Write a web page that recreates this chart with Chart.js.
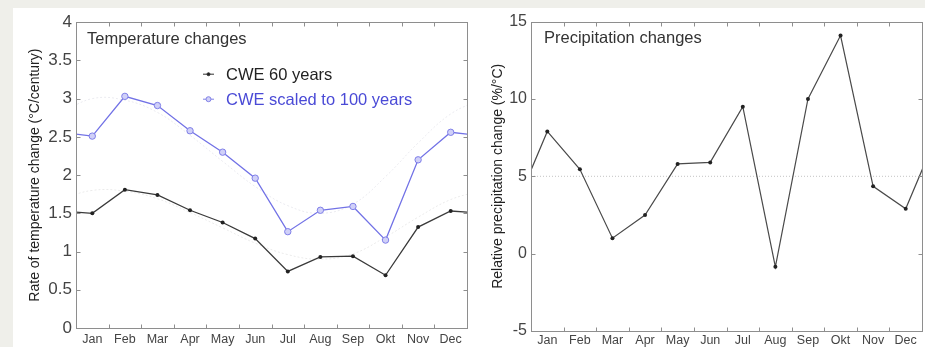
<!DOCTYPE html>
<html>
<head>
<meta charset="utf-8">
<script src="https://cdn.jsdelivr.net/npm/chart.js@4/dist/chart.umd.min.js"></script>
<style>
  html, body { margin: 0; padding: 0; background: #efefea; }
  #page { position: absolute; left: 13px; top: 8px; width: 912px; height: 339px; background: #fff; }
  canvas { position: absolute; top: 0; }
  #tempBox { position: absolute; left: 0; top: 0; width: 460px; height: 339px; }
  #precBox { position: absolute; left: 460px; top: 0; width: 452px; height: 339px; }
</style>
</head>
<body>
<div id="page">
  <div id="tempBox"><canvas id="tempChart"></canvas></div>
  <div id="precBox"><canvas id="precChart"></canvas></div>
</div>
<script>
// month labels (as on the figure)
const months = ['Jan', 'Feb', 'Mar', 'Apr', 'May', 'Jun', 'Jul', 'Aug', 'Sep', 'Okt', 'Nov', 'Dec'];

// temperature change, degC/century
const cwe60 = [1.50, 1.81, 1.74, 1.54, 1.38, 1.17, 0.74, 0.93, 0.94, 0.69, 1.32, 1.53];
const cwe100 = [2.51, 3.03, 2.91, 2.58, 2.30, 1.96, 1.26, 1.54, 1.59, 1.15, 2.20, 2.56];
// faint smooth seasonal curves behind the lines
const fit60 = [1.80, 1.79, 1.69, 1.51, 1.31, 1.11, 0.96, 0.90, 0.97, 1.19, 1.45, 1.68];
const fit100 = [3.00, 2.98, 2.82, 2.52, 2.18, 1.85, 1.60, 1.50, 1.62, 1.98, 2.42, 2.80];

// relative precipitation change, %/degC
const precip = [7.9, 5.45, 1.0, 2.5, 5.8, 5.9, 9.5, -0.85, 10.0, 14.1, 4.35, 2.9];
const precipRef = 5;

const tempTicks = [0, 0.5, 1, 1.5, 2, 2.5, 3, 3.5, 4];
const precTicks = [-5, 0, 5, 10, 15];

const FONT = 'Liberation Sans, Arial, sans-serif';
const nMonths = months.length;

// points at month centres, repeated one month on each side so the line runs to the box edge
const cyclic = (vals) => {
  const pts = vals.map((v, i) => ({ x: i + 0.5, y: v }));
  pts.unshift({ x: -0.5, y: vals[vals.length - 1] });
  pts.push({ x: vals.length + 0.5, y: vals[0] });
  return pts;
};
const inside = (ctx, r) => (ctx.raw && (ctx.raw.x < 0 || ctx.raw.x > nMonths)) ? 0 : r;

// box + inward ticks, matlab style
const frame = {
  id: 'frame',
  afterDatasetsDraw(chart) {
    const { ctx, chartArea: a, scales } = chart;
    const L = Math.round(a.left) + 0.5, R = Math.round(a.right) + 0.5;
    const T = Math.round(a.top) + 0.5, B = Math.round(a.bottom) + 0.5;
    ctx.save();
    ctx.strokeStyle = '#8e8e8e';
    ctx.lineWidth = 1;
    ctx.beginPath();
    scales.y.ticks.forEach(t => {
      const y = Math.round(scales.y.getPixelForValue(t.value)) + 0.5;
      ctx.moveTo(L, y); ctx.lineTo(L + 4, y);
      ctx.moveTo(R, y); ctx.lineTo(R - 4, y);
    });
    for (let i = 1; i < nMonths; i++) {
      const x = Math.round(scales.x.getPixelForValue(i)) + 0.5;
      ctx.moveTo(x, B); ctx.lineTo(x, B - 4);
      ctx.moveTo(x, T); ctx.lineTo(x, T + 4);
    }
    ctx.stroke();
    ctx.strokeRect(L, T, R - L, B - T);
    ctx.restore();
  }
};

// text inside the box
const inset = {
  id: 'inset',
  afterDraw(chart, args, opts) {
    const { ctx, chartArea: a } = chart;
    ctx.save();
    ctx.textBaseline = 'middle';
    ctx.fillStyle = '#333';
    ctx.font = '16.5px ' + FONT;
    ctx.fillText(opts.label, a.left + opts.dx, a.top + 17);
    (opts.legend || []).forEach((it, k) => {
      const y = a.top + 52 + k * 25;
      const x0 = a.left + 127;
      ctx.strokeStyle = it.color;
      ctx.lineWidth = 1;
      ctx.beginPath(); ctx.moveTo(x0, y); ctx.lineTo(x0 + 11, y); ctx.stroke();
      ctx.beginPath(); ctx.arc(x0 + 5.5, y, it.r, 0, Math.PI * 2);
      ctx.fillStyle = it.fill; ctx.fill(); ctx.stroke();
      ctx.fillStyle = it.text;
      ctx.font = '16.5px ' + FONT;
      ctx.fillText(it.label, x0 + 23, y + 1);
    });
    ctx.restore();
  }
};

const xScale = (h, pad) => ({
  type: 'linear', min: 0, max: nMonths,
  afterBuildTicks: s => { s.ticks = months.map((m, i) => ({ value: i + 0.5 })); },
  afterFit: s => { s.height = h; },
  grid: { display: false, drawTicks: false },
  border: { display: false },
  ticks: {
    autoSkip: false, maxRotation: 0, padding: pad, color: '#444',
    font: { family: FONT, size: 12.5 },
    callback: v => months[Math.floor(v)]
  }
});

const yScale = (ticks, w, size, title, tpad) => ({
  min: ticks[0], max: ticks[ticks.length - 1],
  afterBuildTicks: s => { s.ticks = ticks.map(v => ({ value: v })); },
  afterFit: s => { s.width = w; },
  grid: { display: false, drawTicks: false },
  border: { display: false },
  ticks: { padding: 4, color: '#444', font: { family: FONT, size: size }, callback: v => String(v) },
  title: { display: true, text: title, color: '#222', padding: { top: tpad, bottom: 0 }, font: { family: FONT, size: 14 } }
});

const common = {
  responsive: false, animation: false, events: [],
  plugins: { legend: { display: false }, tooltip: { enabled: false } }
};

const tempCanvas = document.getElementById('tempChart');
tempCanvas.width = 460; tempCanvas.height = 339;
new Chart(tempCanvas, {
  type: 'line',
  data: {
    datasets: [
      { data: cyclic(cwe100), borderColor: '#7272e6', borderWidth: 1.3, order: 1, clip: 0,
        pointRadius: c => inside(c, 3.2), pointBackgroundColor: '#d0d0f8', pointBorderColor: '#7f7fe8', pointBorderWidth: 1 },
      { data: cyclic(cwe60), borderColor: '#3a3a3a', borderWidth: 1.3, order: 1, clip: 0,
        pointRadius: c => inside(c, 2), pointBackgroundColor: '#222', pointBorderColor: '#222', pointBorderWidth: 0 },
      { data: cyclic(fit100), borderColor: '#ebebf0', borderWidth: 1, borderDash: [2, 2], tension: 0.4, pointRadius: 0, order: 2, clip: 0 },
      { data: cyclic(fit60), borderColor: '#ebebeb', borderWidth: 1, borderDash: [2, 2], tension: 0.4, pointRadius: 0, order: 2, clip: 0 }
    ]
  },
  options: {
    ...common,
    layout: { padding: { left: 0, right: 6, top: 13, bottom: 0 } },
    scales: {
      x: xScale(19, 4),
      y: yScale(tempTicks, 63, 17, 'Rate of temperature change (\u00b0C/century)', 13.6)
    },
    plugins: {
      ...common.plugins,
      inset: {
        label: 'Temperature changes', dx: 11,
        legend: [
          { label: 'CWE 60 years', color: '#333', fill: '#222', r: 1.5, text: '#222' },
          { label: 'CWE scaled to 100 years', color: '#8080e6', fill: '#d0d0f8', r: 2.5, text: '#4a4ad6' }
        ]
      }
    }
  },
  plugins: [frame, inset]
});

const precCanvas = document.getElementById('precChart');
precCanvas.width = 452; precCanvas.height = 339;
new Chart(precCanvas, {
  type: 'line',
  data: {
    datasets: [
      { data: cyclic(precip), borderColor: '#4a4a4a', borderWidth: 1.2, order: 1, clip: 0,
        pointRadius: c => inside(c, 2), pointBackgroundColor: '#222', pointBorderColor: '#222', pointBorderWidth: 0 },
      { data: [{ x: 0, y: precipRef }, { x: nMonths, y: precipRef }], borderColor: '#c4c4c4', borderWidth: 1,
        borderDash: [1, 2], pointRadius: 0, order: 2, clip: 0 }
    ]
  },
  options: {
    ...common,
    layout: { padding: { left: 0, right: 3, top: 13, bottom: 0 } },
    scales: {
      x: xScale(16, 2),
      y: yScale(precTicks, 58, 16, 'Relative precipitation change (%/\u00b0C)', 16.6)
    },
    plugins: {
      ...common.plugins,
      inset: { label: 'Precipitation changes', dx: 13 }
    }
  },
  plugins: [frame, inset]
});
</script>
</body>
</html>
